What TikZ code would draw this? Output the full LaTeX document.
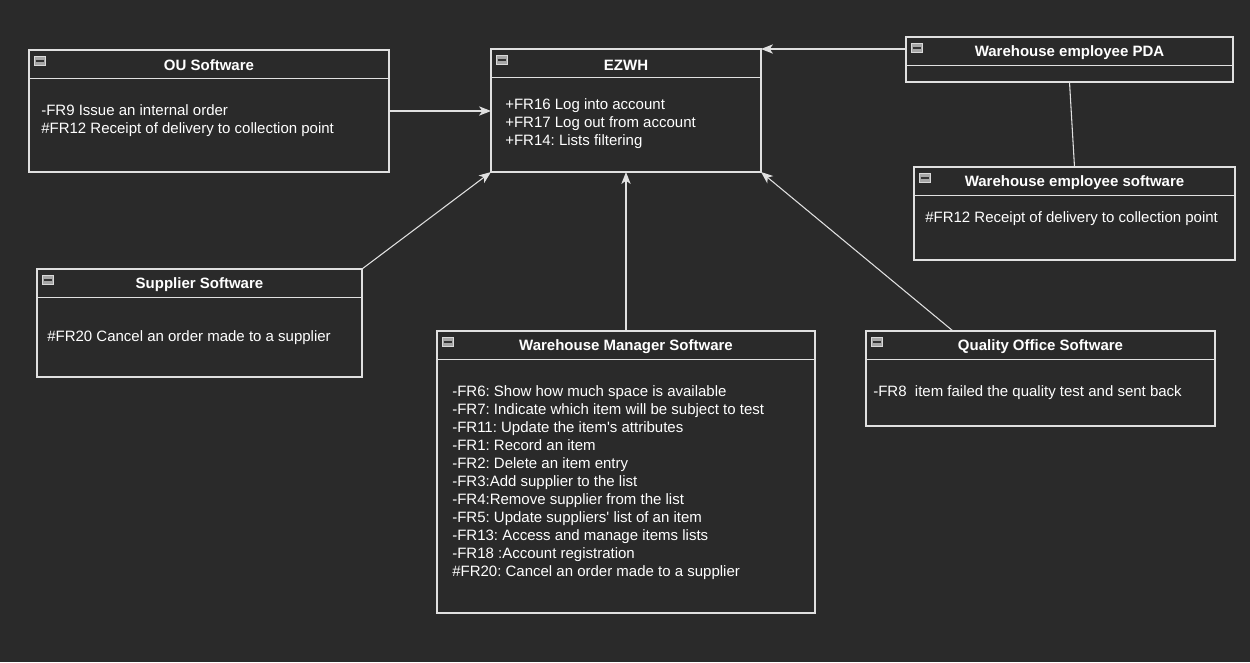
\documentclass[tikz,border=0pt]{standalone}
\usepackage{fontspec}
\setmainfont{Liberation Sans}
\usetikzlibrary{calc,arrows.meta}
\definecolor{bg}{HTML}{2A2A2A}
\definecolor{ln}{HTML}{E0E0E0}
\frenchspacing
\begin{document}
\begin{tikzpicture}[x=0.75pt,y=-0.75pt,
  box/.style={draw=ln,line width=0.8pt,inner sep=0pt,outer sep=0pt,anchor=north west},
  ttl/.style={text=white,font=\fontsize{11.25}{13.5}\selectfont\bfseries,inner sep=0pt},
  body/.style={text=white,font=\fontsize{11.25}{13.5}\selectfont,align=left,anchor=west,inner sep=0pt},
  arr/.style={draw=ln,line width=0.8pt,-{Stealth[length=9pt,width=7pt,inset=2.5pt]}},
  con/.style={draw=ln,line width=0.8pt},
  hdr/.style={draw=ln,line width=0.8pt},
  icon/.style={draw=gray!30,fill=gray!70,line width=0.4pt,minimum width=8pt,minimum height=7pt,inner sep=0pt,anchor=north west}
]
\fill[bg] (0,0) rectangle (1250,662);
\useasboundingbox (0,0) rectangle (1250,662);

% boxes
\node[box,minimum width=270pt,minimum height=91.5pt] (ou) at (29,50) {};
\node[box,minimum width=202.5pt,minimum height=92.25pt] (ez) at (491,49) {};
\node[box,minimum width=245.25pt,minimum height=33.75pt] (pda) at (906,37) {};
\node[box,minimum width=240.75pt,minimum height=69.75pt] (wes) at (914,167) {};
\node[box,minimum width=243.75pt,minimum height=81pt] (sup) at (37,269) {};
\node[box,minimum width=283.5pt,minimum height=211.5pt] (wms) at (437,331) {};
\node[box,minimum width=261.75pt,minimum height=71.25pt] (qos) at (866,331) {};

% header dividers
\foreach \b in {ou,ez,pda,wes,sup,wms,qos}{
  \draw[hdr] ($(\b.north west)+(0,28.5)$) -- ($(\b.north east)+(0,28.5)$);
  \node[icon] (ic\b) at ($(\b.north west)+(5,6)$) {};
  \draw[black!80,line width=1.1pt] ($(ic\b.west)+(1.5,0)$) -- ($(ic\b.east)+(-1.5,0)$);
}

% titles
\node[ttl] (tou) at ($(ou.north)+(0,15.5)$) {OU Software};
\node[ttl] (tez) at ($(ez.north)+(0,16)$) {EZWH};
\node[ttl] (tpda) at ($(pda.north)+(0,15.5)$) {Warehouse employee PDA};
\node[ttl] (twes) at ($(wes.north)+(0,15.5)$) {Warehouse employee software};
\node[ttl] (tsup) at ($(sup.north)+(0,16)$) {Supplier Software};
\node[ttl] (twms) at ($(wms.north)+(0,16)$) {Warehouse Manager Software};
\node[ttl] (tqos) at ($(qos.north)+(0,16)$) {Quality Office Software};

% bodies
\node[body] (bou) at (41,121) {-FR9 Issue an internal order\\\#FR12 Receipt of delivery to collection point};
\node[body] (bez) at (505,124) {+FR16 Log into account\\+FR17 Log out from account\\+FR14: Lists filtering};
\node[body] (bwes) at (925,219) {\#FR12 Receipt of delivery to collection point};
\node[body] (bsup) at (47,338) {\#FR20 Cancel an order made to a supplier};
\node[body] (bwms) at (452,483) {-FR6: Show how much space is available\\-FR7: Indicate which item will be subject to test\\-FR11: Update the item\textquotesingle s attributes\\-FR1: Record an item\\-FR2: Delete an item entry\\-FR3:Add supplier to the list\\-FR4:Remove supplier from the list\\-FR5: Update suppliers\textquotesingle\ list of an item\\-FR13: Access and manage items lists\\-FR18 :Account registration\\\#FR20: Cancel an order made to a supplier};
\node[body] (bqos) at (873,393) {-FR8\ \ item failed the quality test and sent back};

% connectors
\draw[arr] (ou.east) -- (ez.west |- ou.east);
\coordinate (pdaout) at ($(pda.north west)+(0,12)$);
\draw[arr] (pdaout) -- (ez.north east);
\draw[con] (pda.south) -- (wes.north);
\draw[arr] (sup.north east) -- (ez.south west);
\draw[arr] (wms.north) -- (ez.south);
\coordinate (qosout) at ($(qos.north west)+(87,0)$);
\draw[arr] (qosout) -- (ez.south east);
\end{tikzpicture}
\end{document}
